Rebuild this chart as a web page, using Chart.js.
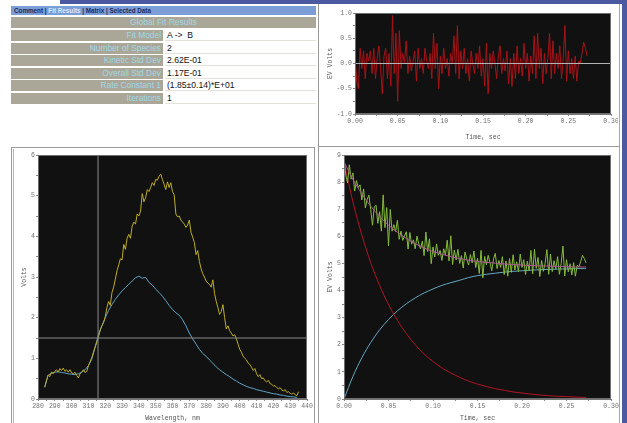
<!DOCTYPE html>
<html>
<head>
<meta charset="utf-8">
<script src="https://cdn.jsdelivr.net/npm/chart.js@4.4.1/dist/chart.umd.min.js"></script>
<style>
  html, body { margin:0; padding:0; background:#fff; width:627px; height:423px; overflow:hidden; }
  body { position:relative; font-family:"Liberation Sans", Arial, sans-serif; }
  .abs { position:absolute; }
  #topStrip { left:60px; top:0; width:567px; height:4px; background:#4b59a0; }
  #rightStrip { left:622px; top:0; width:5px; height:423px; background:#4b59a0; }
  #rightEdge { left:619px; top:4px; width:1px; height:419px; background:#a8a8a8; }
  #midLine { left:318px; top:4px; width:1px; height:419px; background:#9a9a9a; }
  #hLine { left:318px; top:146px; width:302px; height:1px; background:#9a9a9a; }
  #leftBox { left:11px; top:147px; width:304px; height:280px; border:1px solid #9a9a9a; border-bottom:none; box-sizing:border-box; }
  #leftBoxInner { left:13px; top:149px; width:1px; height:274px; background:#b8b8b8; }
  #tabs { left:11px; top:6px; width:305px; height:9px; background:#7b9ed6; font-size:6.3px; font-weight:bold;
          color:#1d2b5c; line-height:9px; white-space:pre; padding-left:3px; box-sizing:border-box; }
  #tabs .sel { color:#dbe7ff; }
  .hdr { left:11px; top:17px; width:305px; height:11px; background:#aaa698; color:#9fd9e6; font-size:8.5px;
         line-height:11px; text-align:center; }
  .lab { left:11px; width:152px; height:11px; background:#aaa698; color:#9fd9e6; font-size:8.4px;
         line-height:11px; text-align:right; padding-right:2px; box-sizing:border-box; white-space:nowrap; }
  .val { left:165px; width:151px; height:11px; background:#fff; color:#111; font-size:8.6px; line-height:11px;
         padding-left:2px; box-sizing:border-box; white-space:pre; border-bottom:1px solid #e4e2da; }
  canvas { position:absolute; }
</style>
</head>
<body>
<div id="topStrip" class="abs"></div>
<div id="rightStrip" class="abs"></div>
<div id="rightEdge" class="abs"></div>
<div id="midLine" class="abs"></div>
<div id="hLine" class="abs"></div>
<div id="leftBox" class="abs"></div>
<div id="leftBoxInner" class="abs"></div>
<div id="tabs" class="abs">Comment | <span class="sel">Fit Results</span> | Matrix | Selected Data</div>
<div id="table"></div>

<canvas id="residualChart" width="296" height="141" style="left:322px;top:5px;width:296px;height:141px"></canvas>
<canvas id="spectraChart" width="301" height="275" style="left:14px;top:148px;width:301px;height:275px"></canvas>
<canvas id="kineticChart" width="297" height="275" style="left:322px;top:148px;width:297px;height:275px"></canvas>

<script>
// ---- Fit summary ----
const fitTitle = 'Global Fit Results';
const fitLabels = ['Fit Model', 'Number of Species', 'Kinetic Std Dev', 'Overall Std Dev', 'Rate Constant 1', 'Iterations'];
const fitValues = ['A ->  B', '2', '2.62E-01', '1.17E-01', '(1.85\u00b10.14)*E+01', '1'];

// ---- Residuals and raw kinetic trace (sampled every 2 ms) ----
const sampleStep = 0.002;
const residuals = [
  0.15,-0.35,-0.5,0.3,-0.1,0.25,-0.3,0.2,0.05,0.25,
  -0.2,0.3,-0.3,0.1,0.35,-0.1,-0.6,0.15,0.3,-0.3,
  0.2,-0.45,0.95,-0.2,0.6,-0.75,0.65,-0.1,0.2,0.0,
  0.45,-0.2,0.15,-0.15,0.05,0.25,-0.35,0.3,-0.1,0.1,
  -0.2,0.3,0.05,-0.1,0.2,-0.3,0.6,-0.1,0.4,-0.5,
  0.15,-0.2,0.3,-0.1,0.1,-0.25,0.2,0.0,0.55,-0.2,
  0.75,-0.3,0.25,-0.1,0.3,-0.2,0.1,-0.35,0.25,0.0,
  -0.2,0.2,-0.1,0.35,-0.25,0.1,-0.45,0.4,-0.6,0.2,
  -0.1,0.25,0.0,-0.3,0.15,0.35,-0.2,0.1,-0.15,0.25,
  -0.4,0.1,-0.45,0.2,-0.3,0.35,-0.2,0.1,-0.25,0.4,
  -0.1,0.2,-0.35,0.15,-0.2,0.55,-0.3,0.6,-0.1,0.3,
  -0.4,0.2,-0.2,0.1,0.6,-0.3,0.45,-0.2,0.2,-0.1,
  0.35,-0.3,0.1,0.75,-0.35,0.25,-0.2,0.1,-0.3,0.15,
  -0.35,0.05,0.0,0.2,0.42,0.3,0.15
];
const kineticTrace = [
  8.90,8.26,7.97,8.64,8.11,8.34,7.67,8.06,7.80,7.90,
  7.34,7.75,7.05,7.36,7.52,6.99,6.41,7.08,7.15,6.48,
  6.91,6.19,7.53,6.32,7.06,5.65,6.99,6.19,6.43,6.18,
  6.59,5.89,6.19,5.85,6.01,6.17,5.53,6.14,5.71,5.87,
  5.54,6.01,5.72,5.54,5.82,5.29,6.16,5.44,5.91,4.99,
  5.61,5.24,5.72,5.30,5.48,5.11,5.54,5.32,5.86,5.09,
  6.02,4.96,5.49,5.13,5.52,5.00,5.29,4.83,5.42,5.15,
  4.94,5.33,5.02,5.46,4.85,5.19,4.63,5.48,4.47,5.26,
  4.95,5.30,5.04,4.73,5.17,5.37,4.81,5.11,4.85,5.25,
  4.59,5.09,4.53,5.18,4.67,5.32,4.76,5.06,4.70,5.35,
  4.85,5.14,4.59,5.08,4.73,5.48,4.62,5.52,4.82,5.22,
  4.52,5.11,4.71,5.01,5.51,4.60,5.35,4.70,5.10,4.80,
  5.25,4.60,4.99,5.64,4.54,5.14,4.69,4.99,4.58,5.03,
  4.53,4.93,4.88,5.08,5.30,5.18,5.02
];

// ---- Fitted concentration profiles ----
const fitTimes = [0,0.01,0.02,0.03,0.04,0.05,0.06,0.07,0.08,0.09,0.10,0.11,0.12,0.13,0.14,
                  0.15,0.16,0.17,0.18,0.19,0.20,0.21,0.22,0.23,0.24,0.25,0.26,0.27,0.272];
const fitTotal = [8.75,8.10,7.57,7.11,6.74,6.41,6.15,5.92,5.73,5.57,5.44,5.34,5.25,5.18,5.12,
                  5.07,5.04,5.01,4.98,4.96,4.94,4.92,4.91,4.90,4.89,4.88,4.87,4.87,4.87];
const speciesA = [8.75,7.27,6.05,5.03,4.19,3.48,2.90,2.41,2.00,1.66,1.38,1.15,0.96,0.80,0.66,
                  0.55,0.46,0.38,0.32,0.26,0.22,0.18,0.15,0.12,0.10,0.09,0.07,0.06,0.06];
const speciesB = [0.00,0.83,1.52,2.08,2.55,2.93,3.25,3.51,3.73,3.91,4.06,4.19,4.29,4.38,4.48,
                  4.55,4.60,4.64,4.68,4.71,4.73,4.75,4.77,4.78,4.79,4.80,4.81,4.81,4.81];

// ---- Spectra (nm) ----
const spectrumAStart = 284, spectrumAStep = 1;
const spectrumA = [
  0.29,0.45,0.59,0.55,0.66,0.62,0.68,0.72,0.66,0.75,
  0.70,0.76,0.68,0.72,0.66,0.72,0.64,0.62,0.66,0.58,
  0.52,0.62,0.66,0.72,0.65,0.68,0.82,0.92,1.02,1.15,
  1.28,1.40,1.53,1.70,1.80,1.88,2.02,2.25,2.40,2.30,
  2.62,2.75,2.95,3.15,3.30,3.45,3.42,3.80,3.68,3.95,
  4.05,3.95,4.25,4.35,4.30,4.55,4.50,4.62,5.05,4.85,
  4.95,5.15,5.10,5.20,5.32,5.25,5.40,5.38,5.48,5.53,
  5.40,5.28,5.15,5.34,5.20,5.32,5.10,5.02,4.55,4.48,
  4.50,4.40,4.35,4.30,4.22,4.28,4.40,4.10,3.98,3.85,
  3.55,3.65,3.38,3.20,3.08,3.00,2.90,2.85,2.82,2.75,
  2.93,2.60,2.40,2.25,2.08,2.15,2.32,2.00,1.72,1.80,
  1.68,1.62,1.55,1.58,1.48,1.35,1.22,1.15,1.05,1.00,
  0.96,0.88,0.85,0.78,0.70,0.75,0.62,0.55,0.60,0.50,
  0.52,0.45,0.42,0.46,0.38,0.36,0.32,0.33,0.28,0.25,
  0.28,0.22,0.20,0.23,0.16,0.18,0.14,0.12,0.15,0.10,
  0.08,0.18
];
const spectrumBStart = 284, spectrumBStep = 2;
const spectrumB = [
  0.29,0.58,0.64,0.66,0.67,0.65,0.64,0.62,0.61,0.60,
  0.62,0.66,0.72,0.82,0.98,1.28,1.58,1.80,2.00,2.18,
  2.32,2.45,2.56,2.66,2.74,2.82,2.90,2.98,3.02,2.97,
  2.99,2.87,2.80,2.70,2.62,2.53,2.42,2.30,2.20,2.12,
  2.06,1.95,1.80,1.62,1.48,1.35,1.22,1.12,1.05,0.96,
  0.88,0.79,0.72,0.66,0.60,0.55,0.49,0.44,0.39,0.35,
  0.31,0.28,0.26,0.23,0.21,0.19,0.17,0.15,0.13,0.12,
  0.10,0.09,0.07,0.06,0.05,0.04
];
const cursorWavelength = 315.7, cursorVolts = 1.5;

// ---- Fit summary table ----
(function buildTable() {
  const host = document.getElementById('table');
  const h = document.createElement('div');
  h.className = 'abs hdr'; h.textContent = fitTitle; host.appendChild(h);
  fitLabels.forEach((lab, i) => {
    const top = 30 + i * 12.5;
    const l = document.createElement('div');
    l.className = 'abs lab'; l.style.top = top + 'px'; l.textContent = lab; host.appendChild(l);
    const v = document.createElement('div');
    v.className = 'abs val'; v.style.top = top + 'px'; v.textContent = fitValues[i]; host.appendChild(v);
  });
})();

// ---- Chart helpers ----
const monoFont = '"Liberation Mono","DejaVu Sans Mono",monospace';

const plotBackground = {
  id: 'plotBackground',
  beforeDraw(chart) {
    const { ctx, chartArea: a } = chart;
    ctx.save();
    ctx.fillStyle = '#111111';
    ctx.fillRect(a.left, a.top, a.right - a.left, a.bottom - a.top);
    ctx.restore();
  },
  afterDraw(chart) {
    const { ctx, chartArea: a } = chart;
    ctx.save();
    ctx.strokeStyle = '#6e6e6e';
    ctx.lineWidth = 1;
    ctx.strokeRect(a.left + 0.5, a.top + 0.5, a.right - a.left - 1, a.bottom - a.top - 1);
    ctx.restore();
  }
};

function isMultiple(v, m) {
  const q = v / m;
  return Math.abs(q - Math.round(q)) < 1e-6;
}

function axis(min, max, step, major, digits, title, titlePad) {
  return {
    type: 'linear', min, max,
    ticks: {
      stepSize: step, autoSkip: false, maxRotation: 0, minRotation: 0, padding: 1,
      color: '#707070', font: { family: monoFont, size: 6.5 },
      callback: (v) => isMultiple(v, major) ? Number(v).toFixed(digits) : ''
    },
    grid: { drawOnChartArea: false, drawTicks: true, tickLength: 2, color: '#8a8a8a' },
    border: { display: true, color: '#777' },
    title: { display: true, text: title, color: '#555', font: { family: monoFont, size: 6.5 }, padding: titlePad }
  };
}

// Place the plot area at fixed canvas coordinates.
function makeChart(id, box, xAxis, yAxis, datasets) {
  const cv = document.getElementById(id);
  const W = cv.width, H = cv.height;
  xAxis.afterFit = (s) => { s.height = H - box.bottom; s.paddingLeft = 0; s.paddingRight = 0; };
  yAxis.afterFit = (s) => { s.width = box.left; s.paddingTop = 0; s.paddingBottom = 0; };
  return new Chart(cv, {
    type: 'line',
    data: { datasets },
    options: {
      responsive: false, animation: false, devicePixelRatio: 1,
      layout: { padding: { left: 0, top: box.top, right: W - box.right, bottom: 0 } },
      plugins: { legend: { display: false }, tooltip: { enabled: false } },
      elements: { point: { radius: 0 }, line: { borderWidth: 1 } },
      scales: { x: xAxis, y: yAxis }
    },
    plugins: [plotBackground]
  });
}

const line = (data, color, smooth) => ({
  data, borderColor: color, borderWidth: 1, pointRadius: 0, fill: false,
  tension: 0, cubicInterpolationMode: smooth ? 'monotone' : 'default'
});

const sampled = (arr, start, step) => arr.map((v, i) => ({ x: start + i * step, y: v }));
const paired = (xs, ys) => xs.map((x, i) => ({ x, y: ys[i] }));

// Residuals
makeChart('residualChart', { left: 33, top: 8, right: 289, bottom: 109 },
  axis(0, 0.3, 0.025, 0.05, 2, 'Time, sec', { top: 0, bottom: 5 }),
  axis(-1, 1, 0.25, 0.5, 1, 'EV Volts', { top: 4, bottom: 0 }),
  [
    line([{ x: 0, y: 0 }, { x: 0.3, y: 0 }], '#b4b4b4'),
    line(sampled(residuals, 0, sampleStep), '#a81218')
  ]);

// Spectra
makeChart('spectraChart', { left: 24, top: 7, right: 293, bottom: 251 },
  axis(280, 440, 5, 10, 0, 'Wavelength, nm', { top: 0, bottom: 1 }),
  axis(0, 6, 0.5, 1, 0, 'Volts', { top: 6, bottom: 0 }),
  [
    line([{ x: cursorWavelength, y: 0 }, { x: cursorWavelength, y: 6 }], '#8c8c8c'),
    line([{ x: 280, y: cursorVolts }, { x: 440, y: cursorVolts }], '#8c8c8c'),
    line(sampled(spectrumA, spectrumAStart, spectrumAStep), '#bcac24'),
    line(sampled(spectrumB, spectrumBStart, spectrumBStep), '#5ea4c4')
  ]);

// Kinetic trace with fitted species
makeChart('kineticChart', { left: 22, top: 7, right: 289, bottom: 251 },
  axis(0, 0.3, 0.025, 0.05, 2, 'Time, sec', { top: 0, bottom: 1 }),
  axis(0, 9, 0.5, 1, 0, 'EV Volts', { top: 4, bottom: 0 }),
  [
    line(paired(fitTimes, fitTotal), '#b0589a', true),
    line(sampled(kineticTrace, 0, sampleStep), '#84bc3a'),
    line(paired(fitTimes, speciesA), '#b01424', true),
    line(paired(fitTimes, speciesB), '#64a8c4', true)
  ]);
</script>
</body>
</html>
